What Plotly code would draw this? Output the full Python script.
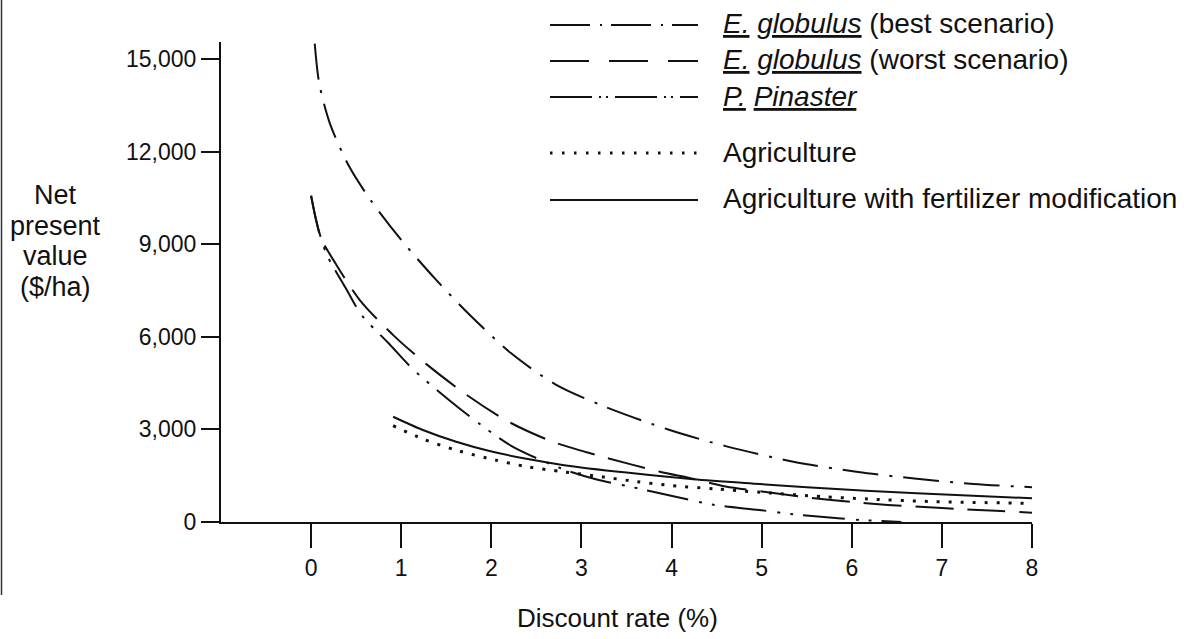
import plotly.graph_objects as go

# Net present value ($/ha) against discount rate (%)
best_x = [0.04, 0.09, 0.21, 0.42, 0.66, 1.0, 1.37, 1.77, 2.22, 2.71, 3.24, 3.98, 4.61, 5.35, 6.07, 6.72, 7.35, 8.0]
best_y = [15500, 14210, 12900, 11530, 10430, 9140, 7900, 6680, 5465, 4460, 3760, 2980, 2450, 1955, 1620, 1400, 1235, 1125]

worst_x = [0.0, 0.05, 0.11, 0.27, 0.54, 0.92, 1.29, 1.74, 2.19, 2.7, 3.26, 3.87, 4.21, 4.6, 5.0, 5.5, 6.0, 6.4, 6.8, 7.2, 7.6, 8.0]
worst_y = [10570, 9850, 9190, 8380, 7190, 6030, 5090, 4090, 3250, 2580, 2095, 1630, 1420, 1150, 990, 800, 650, 550, 485, 420, 365, 300]

pinaster_x = [0.0, 0.05, 0.11, 0.18, 0.39, 0.56, 0.86, 1.13, 1.54, 1.86, 2.22, 2.77, 3.16, 3.57, 4.07, 4.48, 4.97, 5.35, 5.85, 6.1, 6.55]
pinaster_y = [10570, 9850, 9190, 8620, 7550, 6705, 5790, 4950, 3930, 3200, 2470, 1740, 1385, 1125, 800, 550, 390, 250, 120, 65, 0]

agri_x = [0.91, 1.24, 1.63, 2.04, 2.4, 2.79, 3.26, 3.61, 4.0, 4.49, 5.0, 5.68, 6.18, 6.92, 8.0]
agri_y = [3120, 2690, 2310, 2010, 1790, 1630, 1450, 1310, 1180, 1070, 960, 820, 745, 660, 605]

fert_x = [0.91, 1.24, 1.61, 1.98, 2.42, 2.79, 3.5, 4.24, 4.98, 5.5, 6.72, 8.0]
fert_y = [3410, 2980, 2600, 2300, 2030, 1850, 1600, 1385, 1230, 1125, 930, 770]

x_ticks = [0, 1, 2, 3, 4, 5, 6, 7, 8]
y_ticks = [0, 3000, 6000, 9000, 12000, 15000]
y_tick_text = ["0", "3,000", "6,000", "9,000", "12,000", "15,000"]

legend_labels = [
    "<i><u>E.</u> <u>globulus</u></i> (best scenario)",
    "<i><u>E.</u> <u>globulus</u></i> (worst scenario)",
    "<i><u>P.</u> <u>Pinaster</u></i>",
    "Agriculture",
    "Agriculture with fertilizer modification",
]
y_title_lines = ["Net", "present", "value", "($/ha)"]
x_title = "Discount rate (%)"

FONT = "Liberation Sans, Arial, Helvetica, sans-serif"
INK = "#111111"

# canvas geometry (pixels)
W, H = 1184, 639
L, R, T, B = 221, 152, 42, 117
PW, PH = W - L - R, H - T - B


def px(x):
    return (x - L) / PW


def py(y):
    return (H - B - y) / PH


series = [
    (best_x, best_y, "36px,11px,3px,11px", 2),
    (worst_x, worst_y, "38px,14px", 2),
    (pinaster_x, pinaster_y, "42px,11px,3px,10px,3px,10px", 2),
    (agri_x, agri_y, "3px,9px", 3),
    (fert_x, fert_y, "solid", 2),
]

fig = go.Figure()
for xs, ys, dash, w in series:
    fig.add_trace(go.Scatter(
        x=xs, y=ys, mode="lines",
        line=dict(color=INK, width=w, dash=dash, shape="spline", smoothing=0.8),
        showlegend=False, hoverinfo="skip",
    ))

# hand-made key: line samples and labels
legend_rows = [25, 61, 97, 153, 200]
legend_dash = ["40px,10px,2px,9px", "39px,20px", "42px,7px,2px,5px,2px,7px", "2.5px,9.5px", "solid"]
legend_width = [2, 2, 2, 3, 2]
shapes = []
annotations = []
for row, dash, lw, label in zip(legend_rows, legend_dash, legend_width, legend_labels):
    shapes.append(dict(type="line", xref="paper", yref="paper",
                       x0=px(550), x1=px(698), y0=py(row), y1=py(row),
                       line=dict(color=INK, width=lw, dash=dash)))
    annotations.append(dict(xref="paper", yref="paper", x=px(721), y=py(row - 1),
                            xanchor="left", yanchor="middle", text=label, showarrow=False,
                            font=dict(family=FONT, size=28, color=INK)))

# left page edge rule
shapes.append(dict(type="line", xref="paper", yref="paper",
                   x0=px(1.5), x1=px(1.5), y0=py(0), y1=py(595),
                   line=dict(color="#333333", width=1.5)))

# y-axis title, stacked lines
for line_text, cy in zip(y_title_lines, [195, 225.5, 256, 286.5]):
    annotations.append(dict(xref="paper", yref="paper", x=px(55), y=py(cy),
                            xanchor="center", yanchor="middle",
                            text=line_text, showarrow=False, borderpad=0,
                            font=dict(family=FONT, size=27, color=INK)))
annotations.append(dict(xref="paper", yref="paper", x=px(617), y=py(618),
                        xanchor="center", yanchor="middle",
                        text=x_title, showarrow=False,
                        font=dict(family=FONT, size=26, color=INK)))

fig.update_layout(
    width=W, height=H,
    margin=dict(l=L, r=R, t=T, b=B),
    paper_bgcolor="white", plot_bgcolor="white",
    font=dict(family=FONT, size=23, color=INK),
    shapes=shapes, annotations=annotations,
    xaxis=dict(range=[-1, 8], tickvals=x_ticks, ticks="outside", ticklen=24, tickwidth=2,
               tickcolor=INK, showline=True, linecolor=INK, linewidth=2,
               showgrid=False, zeroline=False, tickfont=dict(size=23)),
    yaxis=dict(range=[0, 15550], tickvals=y_ticks, ticktext=y_tick_text, ticks="outside",
               ticklen=18, tickwidth=2, tickcolor=INK, showline=True, linecolor=INK,
               linewidth=2, showgrid=False, zeroline=False, tickfont=dict(size=23)),
)

fig.write_html("out.html")
